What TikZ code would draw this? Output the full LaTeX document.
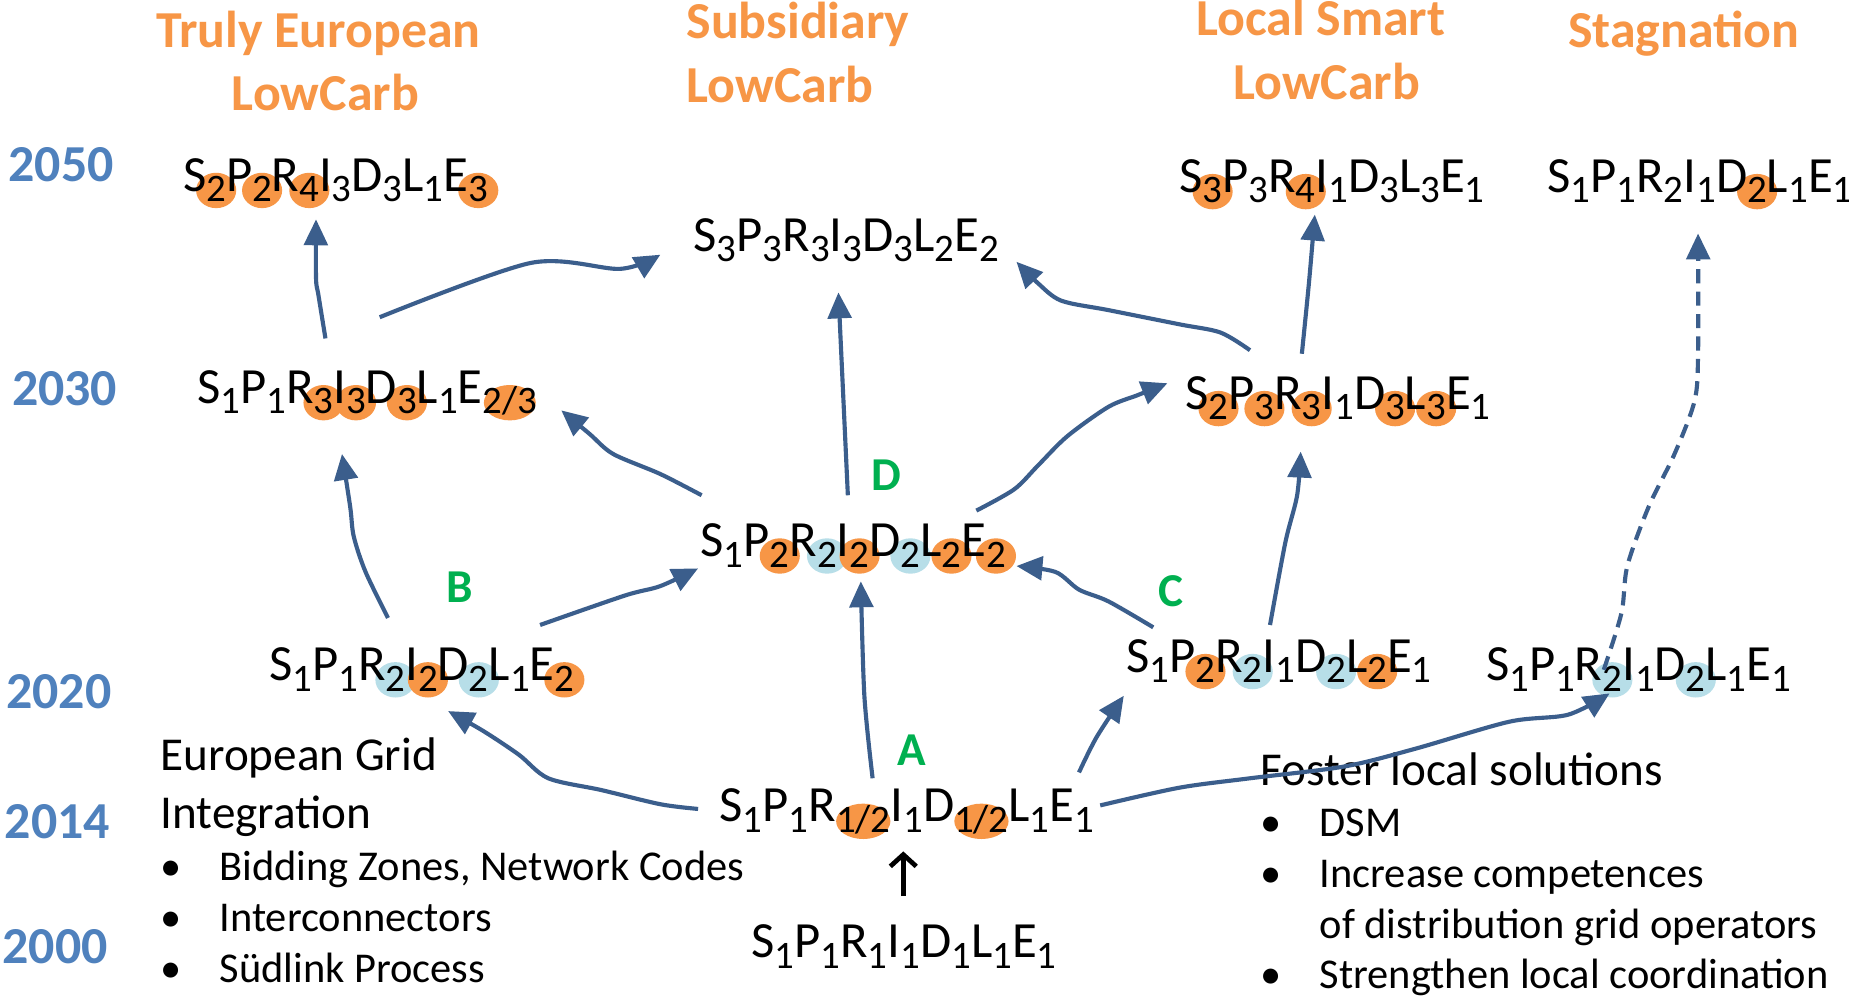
\documentclass[tikz,border=0pt]{standalone}
\usepackage{fontspec}
\setmainfont{Carlito}
\usetikzlibrary{arrows.meta}
\definecolor{orC}{HTML}{F79646}
\definecolor{ltB}{HTML}{B7DEE8}
\definecolor{yearB}{HTML}{4F81BD}
\definecolor{grnL}{HTML}{00B050}
\definecolor{arrB}{HTML}{3B5E8C}
\newif\ifcircles
\newlength\dw
\newcommand\M[1]{\ifcircles\phantom{#1}\else#1\fi}
\newcommand\subf{\fontsize{33pt}{33pt}\selectfont}
\newcommand\Sb[1]{\raisebox{-9pt}{\subf\M{#1}}}
\newcommand\Cs[3][17pt]{\raisebox{-9pt}{\subf\settowidth\dw{#3}\ifcircles\makebox[0pt][l]{\tikz[overlay,baseline=0pt]\fill[#2] (0.5\dw,9.5pt) ellipse [x radius=#1,y radius=15pt];}\fi\M{#3}}}
\newcommand\FLfifty{\M{S}\Cs{orC}{2}\M{P}\Cs{orC}{2}\M{R}\Cs{orC}{4}\M{I}\Sb{3}\M{D}\Sb{3}\M{L}\Sb{1}\M{E}\Cs{orC}{3}}
\newcommand\FMfifty{\M{S}\Sb{3}\M{P}\Sb{3}\M{R}\Sb{3}\M{I}\Sb{3}\M{D}\Sb{3}\M{L}\Sb{2}\M{E}\Sb{2}}
\newcommand\FRfifty{\M{S}\Cs{orC}{3}\M{P}\Sb{3}\M{R}\Cs{orC}{4}\M{I}\Sb{1}\M{D}\Sb{3}\M{L}\Sb{3}\M{E}\Sb{1}}
\newcommand\FSfifty{\M{S}\Sb{1}\M{P}\Sb{1}\M{R}\Sb{2}\M{I}\Sb{1}\M{D}\Cs{orC}{2}\M{L}\Sb{1}\M{E}\Sb{1}}
\newcommand\FLthirty{\M{S}\Sb{1}\M{P}\Sb{1}\M{R}\Cs{orC}{3}\M{I}\Cs{orC}{3}\M{D}\Cs{orC}{3}\M{L}\Sb{1}\M{E}\Cs[22pt]{orC}{2/3}}
\newcommand\FRthirty{\M{S}\Cs{orC}{2}\M{P}\Cs{orC}{3}\M{R}\Cs{orC}{3}\M{I}\Sb{1}\M{D}\Cs{orC}{3}\M{L}\Cs{orC}{3}\M{E}\Sb{1}}
\newcommand\FDform{\M{S}\Sb{1}\M{P}\Cs{orC}{2}\M{R}\Cs{ltB}{2}\M{I}\Cs{orC}{2}\M{D}\Cs{ltB}{2}\M{L}\Cs{orC}{2}\M{E}\Cs{orC}{2}}
\newcommand\FBform{\M{S}\Sb{1}\M{P}\Sb{1}\M{R}\Cs{ltB}{2}\M{I}\Cs{orC}{2}\M{D}\Cs{ltB}{2}\M{L}\Sb{1}\M{E}\Cs{orC}{2}}
\newcommand\FCform{\M{S}\Sb{1}\M{P}\Cs{orC}{2}\M{R}\Cs{ltB}{2}\M{I}\Sb{1}\M{D}\Cs{ltB}{2}\M{L}\Cs{orC}{2}\M{E}\Sb{1}}
\newcommand\FRtwenty{\M{S}\Sb{1}\M{P}\Sb{1}\M{R}\Cs{ltB}{2}\M{I}\Sb{1}\M{D}\Cs{ltB}{2}\M{L}\Sb{1}\M{E}\Sb{1}}
\newcommand\FAform{\M{S}\Sb{1}\M{P}\Sb{1}\M{R}\Cs[23pt]{orC}{1/2}\M{I}\Sb{1}\M{D}\Cs[23pt]{orC}{1/2}\M{L}\Sb{1}\M{E}\Sb{1}}
\newcommand\FZform{\M{S}\Sb{1}\M{P}\Sb{1}\M{R}\Sb{1}\M{I}\Sb{1}\M{D}\Sb{1}\M{L}\Sb{1}\M{E}\Sb{1}}
\begin{document}
\begin{tikzpicture}[x=1pt,y=-1pt,
  formula/.style={anchor=base west,inner sep=0pt,font=\fontsize{43pt}{43pt}\selectfont},
  title/.style={anchor=base,inner sep=0pt,text=orC,font=\bfseries\fontsize{44pt}{44pt}\selectfont},
  titlew/.style={title,anchor=base west},
  year/.style={anchor=base west,inner sep=0pt,text=yearB,font=\bfseries\fontsize{44pt}{44pt}\selectfont},
  lab/.style={anchor=base,inner sep=0pt,text=grnL,font=\bfseries\fontsize{40pt}{40pt}\selectfont},
  body/.style={anchor=base west,inner sep=0pt,font=\fontsize{40pt}{40pt}\selectfont},
  bline/.style={anchor=base west,inner sep=0pt,font=\fontsize{36pt}{36pt}\selectfont},
  conn/.style={draw=arrB,line width=3.5pt,line join=round,-{Triangle[length=22pt,width=20pt]}},
  dconn/.style={conn,dash pattern=on 12pt off 7pt}]
\useasboundingbox[fill=white] (0,0) rectangle (1568,848);
% titles
\node[title] (t1a) at (270,40) {Truly European};
\node[title] (t1b) at (276,94) {LowCarb};
\node[titlew] (t2a) at (582,33) {Subsidiary};
\node[titlew] (t2b) at (582,87) {LowCarb};
\node[title] (t3a) at (1120,30) {Local Smart};
\node[title] (t3b) at (1125,84) {LowCarb};
\node[title] (t4a) at (1428,40) {Stagnation};
% years
\node[year] (y50) at (7,154) {2050};
\node[year] (y30) at (10,344) {2030};
\node[year] (y20) at (5,601) {2020};
\node[year] (y14) at (4,711) {2014};
\node[year] (y00) at (2,817) {2000};
% formula backgrounds (circles)
\node[formula] (fL50c) at (155,162) {\circlestrue\FLfifty};
\node[formula] (fM50c) at (588,213) {\circlestrue\FMfifty};
\node[formula] (fR50c) at (1000,163) {\circlestrue\FRfifty};
\node[formula] (fS50c) at (1312,163) {\circlestrue\FSfifty};
\node[formula] (fL30c) at (167,342) {\circlestrue\FLthirty};
\node[formula] (fR30c) at (1005,347) {\circlestrue\FRthirty};
\node[formula] (fDc) at (594,472) {\circlestrue\FDform};
\node[formula] (fBc) at (228,577) {\circlestrue\FBform};
\node[formula] (fCc) at (955,570) {\circlestrue\FCform};
\node[formula] (fR20c) at (1260,577) {\circlestrue\FRtwenty};
\node[formula] (fAc) at (610,697) {\circlestrue\FAform};
% formulas
\node[formula] (fL50) at (155,162) {\FLfifty};
\node[formula] (fM50) at (588,213) {\FMfifty};
\node[formula] (fR50) at (1000,163) {\FRfifty};
\node[formula] (fS50) at (1312,163) {\FSfifty};
\node[formula] (fL30) at (167,342) {\FLthirty};
\node[formula] (fR30) at (1005,347) {\FRthirty};
\node[formula] (fD) at (594,472) {\FDform};
\node[formula] (fB) at (228,577) {\FBform};
\node[formula] (fC) at (955,570) {\FCform};
\node[formula] (fR20) at (1260,577) {\FRtwenty};
\node[formula] (fA) at (610,697) {\FAform};
\node[formula] (f00) at (637,812) {\FZform};
% labels
\node[lab] (lA) at (773,649) {A};
\node[lab] (lB) at (390,511) {B};
\node[lab] (lC) at (993,514) {C};
\node[lab] (lD) at (752,416) {D};
% text blocks
\node[body] (eg1) at (136,653) {European Grid};
\node[body] (eg2) at (136,703) {Integration};
\node[bline] (eb1) at (136,747) {\makebox[50pt][l]{•}Bidding Zones, Network Codes};
\node[bline] (eb2) at (136,790) {\makebox[50pt][l]{•}Interconnectors};
\node[bline] (eb3) at (136,833) {\makebox[50pt][l]{•}Südlink Process};
\node[body] (fl1) at (1069,666) {Foster local solutions};
\node[bline] (fb1) at (1069,709) {\makebox[50pt][l]{•}DSM};
\node[bline] (fb2) at (1069,753) {\makebox[50pt][l]{•}Increase competences};
\node[bline] (fb3) at (1119,796) {of distribution grid operators};
\node[bline] (fb4) at (1069,838) {\makebox[50pt][l]{•}Strengthen local coordination};
% black arrow
\draw[line width=4pt,-{Straight Barb[length=10pt,width=22pt]}] ([shift={(129,-52)}]f00.base west) -- ([shift={(156,25)}]fA.base west);
% blue connectors
\draw[conn] plot[smooth,tension=0.5] coordinates {([shift={(109,-55)}]fL30.base west) (270,250) (268,236) ([shift={(113,24)}]fL50.base west)};
\draw[conn] plot[smooth,tension=0.5] coordinates {([shift={(155,-73)}]fL30.base west) (450,223) (526,228) ([shift={(-28,3)}]fM50.base west)};
\draw[conn] plot[smooth,tension=0.5] coordinates {([shift={(101,-53)}]fB.base west) (310,485) (300,455) (297,430) ([shift={(123,43)}]fL30.base west)};
\draw[conn] plot[smooth,tension=0.5] coordinates {([shift={(230,-47)}]fB.base west) (530,505) (560,497) ([shift={(-2,10)}]fD.base west)};
\draw[conn] plot[smooth,tension=0.5] coordinates {([shift={(-18,-11)}]fA.base west) (560,682) (510,670) (465,660) (440,640) (410,620) ([shift={(152,26)}]fB.base west)};
\draw[conn] plot[smooth,tension=0.5] coordinates {([shift={(130,-37)}]fA.base west) (733,590) ([shift={(136,21)}]fD.base west)};
\draw[conn] plot[smooth,tension=0.5] coordinates {([shift={(305,-42)}]fA.base west) (930,625) ([shift={(-2,20)}]fC.base west)};
\draw[conn] plot[smooth,tension=0.5] coordinates {([shift={(323,-14)}]fA.base west) (1000,668) (1060,660) (1140,650) (1200,635) (1280,612) (1330,606) ([shift={(105,11)}]fR20.base west)};
\draw[conn] plot[smooth,tension=0.5] coordinates {([shift={(23,-38)}]fC.base west) (940,510) (915,500) (895,485) ([shift={(268,8)}]fD.base west)};
\draw[conn] plot[smooth,tension=0.5] coordinates {([shift={(122,-40)}]fC.base west) (1090,460) (1100,420) ([shift={(98,36)}]fR30.base west)};
\draw[conn] plot[smooth,tension=0.5] coordinates {([shift={(1,-52)}]fD.base west) (560,402) (520,385) (500,368) ([shift={(309,6)}]fL30.base west)};
\draw[conn] ([shift={(125,-52)}]fD.base west) -- ([shift={(123,35)}]fM50.base west);
\draw[conn] plot[smooth,tension=0.5] coordinates {([shift={(234,-39)}]fD.base west) (860,415) (880,395) (905,370) (940,345) (965,335) ([shift={(-15,-22)}]fR30.base west)};
\draw[conn] plot[smooth,tension=0.5] coordinates {([shift={(55,-50)}]fR30.base west) (1035,282) (1000,275) (940,263) (900,255) (880,240) ([shift={(274,9)}]fM50.base west)};
\draw[conn] plot[smooth,tension=0.5] coordinates {([shift={(99,-47)}]fR30.base west) (1110,240) ([shift={(115,19)}]fR50.base west)};
\draw[dconn] plot[smooth,tension=0.5] coordinates {([shift={(100,-9)}]fR20.base west) (1375,520) (1380,480) (1398,430) (1420,385) (1437,340) (1440,300) ([shift={(128,35)}]fS50.base west)};
\end{tikzpicture}
\end{document}
